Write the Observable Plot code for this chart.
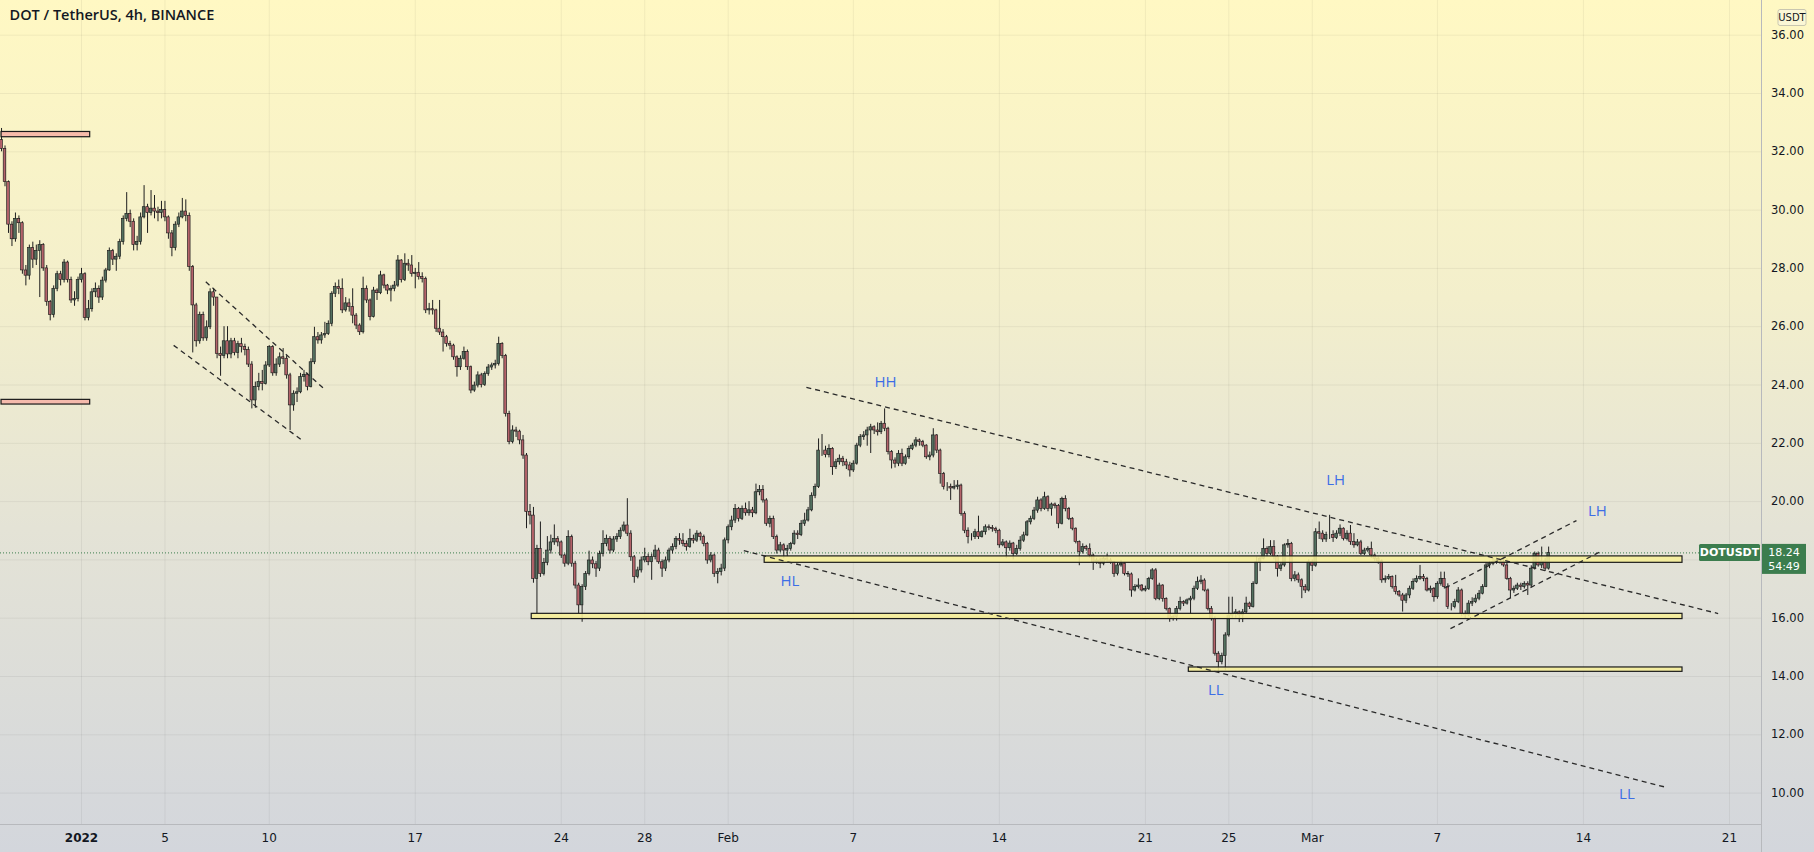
<!DOCTYPE html>
<html>
<head>
<meta charset="utf-8">
<script src="https://cdn.jsdelivr.net/npm/d3@7"></script>
<script src="https://cdn.jsdelivr.net/npm/@observablehq/plot@0.6"></script>
<style>
  html, body { margin: 0; padding: 0; background: #e8e6d4; }
  #chart { width: 1814px; height: 852px; }
</style>
</head>
<body>
<div id="chart"></div>
<script>
// ---------------- DATA ----------------
const chartTitle = "DOT / TetherUS, 4h, BINANCE";
const symbolName = "DOTUSDT";
const quoteCurrency = "USDT";
const lastPrice = 18.24;
const countdown = "54:49";
const firstCandleTime = "2021-12-28T04:00:00Z"; // 4h candles follow
const firstOpen = 32.40;

const closes = [
  32.10, 30.96, 29.50, 29.00, 29.70,
  29.55, 27.93, 27.75, 28.70, 28.30, 28.60,
  28.80, 28.00, 26.85, 26.40, 27.30, 27.80,
  27.60, 28.20, 27.60, 26.90, 26.95, 27.60,
  27.80, 26.30, 26.60, 27.18, 27.30, 27.00,
  27.58, 27.93, 28.60, 28.30, 28.40, 28.90,
  29.70, 29.87, 29.60, 28.80, 28.90, 29.75,
  30.10, 29.90, 30.05, 29.95, 29.90, 30.00,
  29.75, 29.20, 28.70, 29.50, 29.75, 29.95,
  29.80, 28.05, 26.73, 25.50, 26.40, 25.60,
  25.98, 27.18, 27.00, 25.07, 25.00, 25.50,
  25.05, 25.50, 25.10, 25.40, 25.30, 25.20,
  24.70, 23.47, 23.93, 24.10, 24.03, 24.67,
  25.30, 24.40, 24.70, 24.95, 24.90, 24.33,
  23.30, 23.70, 23.75, 24.27, 24.35, 23.93,
  24.78, 25.64, 25.53, 25.70, 25.75, 26.10,
  27.13, 27.36, 27.30, 26.56, 26.80, 26.67,
  26.38, 26.04, 25.81, 27.30, 26.90, 26.33,
  27.24, 27.15, 27.76, 27.41, 27.24, 27.30,
  27.41, 28.27, 27.60, 28.16, 28.10, 27.81,
  27.85, 27.70, 27.64, 26.56, 26.60, 26.56,
  25.93, 25.80, 25.64, 25.41, 25.35, 24.95,
  24.61, 24.90, 25.13, 24.61, 23.81, 23.98,
  24.33, 24.00, 24.38, 24.60, 24.67, 24.72,
  25.41, 25.00, 23.01, 22.04, 22.44, 22.40,
  22.10, 21.58, 19.64, 19.52, 17.35, 18.38,
  17.52, 17.90, 18.32, 18.60, 18.72, 18.60,
  18.15, 17.87, 18.78, 17.87, 17.12, 16.44,
  17.07, 17.52, 17.98, 17.85, 17.70, 18.20,
  18.55, 18.72, 18.32, 18.70, 18.78, 19.00,
  19.18, 18.90, 18.09, 17.41, 17.64, 17.98,
  18.10, 17.92, 18.10, 18.32, 17.92, 17.70,
  17.98, 18.32, 18.44, 18.72, 18.66, 18.55,
  18.44, 18.72, 18.66, 18.90, 18.78, 18.55,
  17.98, 18.15, 17.52, 17.58, 17.70, 18.67,
  19.12, 19.35, 19.75, 19.41, 19.75, 19.60,
  19.70, 19.60, 20.32, 20.40, 20.04, 19.24,
  19.40, 18.78, 18.32, 18.50, 18.32, 18.38,
  18.55, 18.90, 18.85, 19.24, 19.35, 19.70,
  20.20, 20.50, 21.75, 21.75, 21.60, 21.81,
  21.18, 21.35, 21.47, 21.35, 21.24, 21.07,
  21.30, 21.92, 22.21, 22.27, 22.44, 22.55,
  22.44, 22.38, 22.67, 22.50, 21.70, 21.41,
  21.30, 21.64, 21.30, 21.52, 21.81, 21.92,
  22.10, 22.04, 21.92, 21.52, 21.58, 22.27,
  21.75, 20.95, 20.50, 20.50, 20.45, 20.50,
  20.55, 19.58, 19.00, 18.78, 18.78, 18.95,
  18.78, 18.95, 19.12, 19.10, 19.06, 19.00,
  18.50, 18.60, 18.40, 18.56, 18.20, 18.38,
  18.66, 18.84, 19.29, 19.41, 19.69, 20.04,
  19.75, 20.15, 19.75, 19.90, 19.85, 19.24,
  20.09, 19.75, 19.41, 19.07, 18.61, 18.27,
  18.44, 18.38, 18.15, 17.92, 17.98, 17.87,
  18.04, 17.98, 17.92, 17.52, 17.81, 17.87,
  17.52, 17.50, 16.95, 17.07, 17.12, 16.95,
  17.00, 17.35, 17.64, 16.66, 17.12, 16.66,
  16.32, 15.98, 16.04, 16.32, 16.55, 16.50,
  16.61, 16.67, 17.01, 17.24, 17.29, 16.95,
  16.32, 15.98, 14.78, 14.49, 14.70, 15.41,
  16.09, 16.15, 16.20, 16.10, 16.20, 16.50,
  16.38, 17.18, 17.92, 18.04, 18.38, 18.21,
  18.44, 18.10, 17.69, 17.81, 18.50, 18.55,
  17.35, 17.47, 17.30, 17.07, 16.95, 17.92,
  17.80, 18.95, 18.90, 18.70, 18.85, 18.85,
  18.75, 18.90, 19.07, 18.72, 18.90, 18.61,
  18.50, 18.60, 18.21, 18.32, 18.38, 18.15,
  18.04, 17.95, 17.30, 17.35, 17.41, 17.07,
  16.90, 16.78, 16.60, 16.78, 17.01, 17.24,
  17.35, 17.41, 17.35, 16.95, 17.01, 16.72,
  17.18, 17.35, 17.07, 16.38, 16.38, 16.55,
  16.95, 16.15, 16.10, 16.50, 16.55, 16.67,
  16.84, 17.07, 17.81, 17.87, 17.92, 17.98,
  17.92, 17.81, 17.35, 16.95, 17.01, 17.12,
  17.07, 17.18, 17.12, 17.70, 18.21, 17.81,
  17.95, 17.70, 18.24
];

const highs = [
  32.80, 32.20, 31.00, 29.60, 29.90,
  29.80, 29.60, 28.10, 28.80, 28.90, 28.80,
  28.95, 28.85, 28.10, 26.90, 27.40, 27.90,
  27.90, 28.30, 28.25, 27.70, 27.20, 27.70,
  28.00, 27.85, 26.90, 27.30, 27.50, 27.40,
  27.70, 28.00, 28.70, 28.65, 28.50, 29.00,
  29.80, 30.60, 30.00, 29.70, 29.10, 29.90,
  30.84, 30.20, 30.67, 30.50, 30.10, 30.30,
  30.30, 29.80, 29.30, 29.60, 29.90, 30.40,
  30.35, 29.90, 28.10, 26.80, 26.50, 26.50,
  26.20, 27.30, 27.30, 27.00, 25.30, 26.00,
  26.00, 25.60, 25.60, 25.50, 25.60, 25.40,
  25.30, 24.80, 24.10, 24.40, 24.50, 24.80,
  25.35, 25.35, 24.90, 25.10, 25.25, 25.00,
  24.40, 23.80, 23.90, 24.40, 24.50, 24.40,
  24.90, 25.98, 25.80, 25.80, 26.15, 26.20,
  27.20, 27.50, 27.60, 27.64, 27.00, 26.95,
  27.30, 26.45, 26.10, 27.70, 27.40, 26.95,
  27.35, 27.30, 27.90, 27.80, 27.45, 27.40,
  27.55, 28.44, 28.30, 28.50, 28.30, 28.44,
  28.00, 28.20, 27.85, 27.70, 26.80, 26.90,
  26.60, 26.90, 25.90, 25.70, 25.50, 25.40,
  25.00, 25.00, 25.30, 25.20, 24.65, 24.10,
  24.45, 24.40, 24.45, 24.70, 24.75, 24.85,
  25.64, 25.45, 25.05, 23.10, 22.60, 22.55,
  22.45, 22.27, 21.65, 19.90, 19.80, 18.50,
  19.30, 18.05, 18.80, 18.85, 19.20, 18.80,
  18.65, 18.20, 19.00, 18.85, 17.95, 17.20,
  17.15, 17.60, 18.30, 18.10, 17.95, 18.30,
  19.00, 18.85, 18.80, 18.80, 18.90, 19.10,
  19.30, 20.10, 19.00, 18.15, 17.75, 18.10,
  18.40, 18.20, 18.20, 18.50, 18.40, 18.00,
  18.10, 18.40, 18.55, 18.80, 18.90, 18.90,
  18.65, 19.05, 18.85, 19.00, 18.95, 18.85,
  18.60, 18.25, 18.20, 17.70, 17.85, 18.75,
  19.20, 19.50, 19.90, 19.80, 19.85, 19.95,
  20.00, 19.80, 20.60, 20.55, 20.55, 20.10,
  19.50, 19.50, 18.85, 18.60, 18.55, 18.50,
  18.60, 19.00, 19.00, 19.35, 19.60, 19.80,
  20.30, 20.60, 22.15, 22.30, 21.90, 21.95,
  21.85, 21.45, 21.60, 21.55, 21.45, 21.35,
  21.40, 22.00, 22.30, 22.40, 22.55, 22.65,
  22.60, 22.70, 22.75, 23.18, 22.55, 21.75,
  21.50, 21.75, 21.80, 21.60, 21.90, 22.00,
  22.20, 22.15, 22.10, 21.95, 21.70, 22.50,
  22.30, 21.80, 21.00, 20.65, 20.60, 20.72,
  20.72, 20.60, 19.65, 19.10, 18.90, 19.05,
  19.50, 19.00, 19.20, 19.20, 19.18, 19.12,
  19.05, 18.70, 18.65, 18.65, 18.60, 18.50,
  18.80, 18.95, 19.35, 19.50, 19.80, 20.15,
  20.10, 20.32, 20.20, 19.95, 19.95, 19.90,
  20.15, 20.20, 19.80, 19.45, 19.10, 18.65,
  18.55, 18.50, 18.55, 18.20, 18.05, 18.05,
  18.10, 18.20, 18.05, 17.95, 17.90, 17.98,
  17.90, 17.60, 17.55, 17.15, 17.35, 17.15,
  17.10, 17.40, 17.70, 17.70, 17.20, 17.15,
  16.70, 16.35, 16.10, 16.40, 16.72, 16.60,
  16.66, 16.75, 17.10, 17.41, 17.46, 17.35,
  17.00, 16.40, 16.05, 14.85, 14.80, 15.50,
  16.72, 16.72, 16.30, 16.25, 16.30, 16.72,
  16.55, 17.25, 18.10, 18.10, 18.72, 18.45,
  18.66, 18.66, 18.15, 17.90, 18.55, 18.70,
  18.60, 17.60, 17.55, 17.35, 17.15, 18.00,
  18.00, 19.07, 19.30, 19.00, 18.95, 19.53,
  19.00, 19.00, 19.20, 19.10, 19.00, 19.18,
  18.90, 18.70, 18.67, 18.40, 18.45, 18.61,
  18.20, 18.10, 18.00, 17.45, 17.50, 17.45,
  17.47, 16.95, 16.85, 16.85, 17.10, 17.35,
  17.45, 17.81, 17.50, 17.40, 17.10, 17.05,
  17.25, 17.58, 17.58, 17.18, 16.50, 16.65,
  17.05, 17.00, 16.25, 16.60, 16.70, 16.80,
  16.95, 17.15, 17.90, 17.95, 18.05, 18.10,
  18.05, 18.10, 18.04, 17.40, 17.10, 17.20,
  17.20, 17.25, 17.25, 17.80, 18.27, 18.27,
  18.44, 18.05, 18.44
];

const lows = [
  32.00, 30.80, 29.20, 28.75, 28.90,
  29.20, 27.80, 27.40, 27.60, 28.00, 28.10,
  27.00, 27.90, 26.70, 26.20, 26.30, 27.20,
  27.40, 27.50, 27.50, 26.80, 26.70, 26.85,
  27.50, 26.20, 26.20, 26.50, 27.00, 26.80,
  26.90, 27.50, 27.90, 28.10, 27.90, 28.30,
  28.80, 29.60, 29.40, 28.60, 28.60, 28.80,
  29.70, 29.20, 29.80, 29.70, 29.60, 29.70,
  29.60, 29.00, 28.40, 28.60, 29.40, 29.70,
  29.60, 27.90, 25.10, 25.30, 25.40, 25.50,
  25.50, 25.90, 26.70, 24.90, 24.30, 24.90,
  24.90, 24.90, 25.00, 24.90, 25.10, 25.00,
  24.60, 23.18, 23.20, 23.80, 23.80, 24.00,
  24.60, 24.30, 24.30, 24.60, 24.70, 24.20,
  22.44, 23.10, 23.40, 23.70, 24.10, 23.80,
  23.90, 24.70, 25.40, 25.40, 25.60, 25.70,
  26.00, 27.00, 27.10, 26.45, 26.50, 26.50,
  26.10, 25.90, 25.70, 25.75, 26.80, 26.20,
  26.30, 26.90, 27.10, 27.30, 27.10, 26.85,
  27.20, 27.35, 27.50, 27.55, 27.90, 27.70,
  27.30, 27.60, 27.50, 26.45, 26.40, 26.40,
  25.80, 25.70, 25.13, 25.30, 25.20, 24.85,
  24.27, 24.50, 24.85, 24.50, 23.70, 23.75,
  23.90, 23.90, 23.95, 24.30, 24.50, 24.55,
  24.65, 24.90, 22.90, 21.95, 21.98, 22.20,
  21.95, 21.45, 19.07, 19.20, 17.20, 16.15,
  17.40, 17.45, 17.80, 18.20, 18.50, 18.45,
  18.05, 17.75, 17.80, 17.75, 17.00, 16.15,
  15.86, 16.95, 17.45, 17.70, 17.40, 17.60,
  18.10, 18.45, 18.20, 18.25, 18.60, 18.70,
  18.95, 18.80, 17.95, 17.20, 17.35, 17.55,
  17.90, 17.80, 17.30, 18.00, 17.85, 17.40,
  17.60, 17.90, 18.20, 18.35, 18.50, 18.45,
  18.30, 18.40, 18.55, 18.60, 18.65, 18.45,
  17.85, 17.90, 17.40, 17.18, 17.45, 17.60,
  18.55, 19.00, 19.25, 19.30, 19.35, 19.50,
  19.50, 19.45, 19.55, 20.20, 19.95, 19.15,
  19.10, 18.70, 18.20, 18.25, 18.04, 18.10,
  18.30, 18.50, 18.70, 18.80, 19.15, 19.30,
  19.65, 20.10, 20.45, 21.55, 21.50, 21.50,
  20.90, 21.10, 21.25, 21.20, 21.10, 20.84,
  21.00, 21.25, 21.85, 22.10, 21.90, 21.65,
  22.30, 22.25, 22.30, 22.40, 21.60, 21.12,
  21.15, 21.20, 21.20, 21.25, 21.45, 21.75,
  21.85, 21.90, 21.85, 21.45, 21.40, 21.50,
  21.65, 20.60, 20.40, 20.35, 20.04, 20.40,
  20.40, 19.50, 18.90, 18.55, 18.65, 18.70,
  18.70, 18.75, 18.85, 19.00, 18.95, 18.90,
  18.40, 18.45, 18.04, 18.30, 18.00, 18.15,
  18.30, 18.60, 18.80, 19.20, 19.35, 19.60,
  19.65, 19.70, 19.65, 19.50, 19.75, 19.07,
  19.20, 19.65, 19.35, 19.00, 18.55, 17.80,
  18.20, 18.30, 18.05, 17.64, 17.85, 17.70,
  17.80, 17.90, 17.85, 17.40, 17.45, 17.75,
  17.45, 17.40, 16.72, 16.90, 17.00, 16.90,
  16.90, 16.95, 17.30, 16.60, 16.60, 16.55,
  16.25, 15.86, 15.90, 15.90, 16.25, 16.40,
  16.45, 16.15, 16.60, 16.95, 17.15, 16.90,
  16.25, 15.90, 14.70, 14.15, 14.40, 14.20,
  15.35, 16.00, 16.00, 15.85, 15.85, 16.15,
  16.30, 16.35, 17.15, 17.60, 18.00, 18.10,
  18.15, 18.00, 17.41, 17.60, 17.75, 18.40,
  17.25, 17.25, 17.20, 16.67, 16.85, 16.90,
  17.60, 17.75, 18.70, 18.60, 18.60, 18.70,
  18.60, 18.70, 18.80, 18.65, 18.65, 18.50,
  18.40, 18.45, 18.15, 18.15, 18.25, 18.05,
  17.95, 17.85, 17.20, 17.20, 17.30, 17.00,
  16.80, 16.72, 16.21, 16.50, 16.67, 16.95,
  17.20, 17.30, 17.25, 16.90, 16.85, 16.55,
  16.65, 17.10, 17.00, 16.30, 16.25, 16.32,
  16.50, 16.05, 15.98, 16.05, 16.40, 16.50,
  16.60, 16.80, 17.05, 17.70, 17.80, 17.85,
  17.85, 17.75, 17.30, 16.67, 16.85, 16.95,
  16.95, 17.00, 16.78, 17.05, 17.65, 17.75,
  17.70, 17.60, 17.65
];

// Price axis: grid lines at every 2.00; the 18.00 label is hidden under the last-price tag
const gridPrices  = [10, 12, 14, 16, 18, 20, 22, 24, 26, 28, 30, 32, 34, 36];
const labelPrices = [10, 12, 14, 16, 20, 22, 24, 26, 28, 30, 32, 34, 36];
const timeTickDates = ["2022-01-01", "2022-01-05", "2022-01-10", "2022-01-17", "2022-01-24", "2022-01-28",
  "2022-02-01", "2022-02-07", "2022-02-14", "2022-02-21", "2022-02-25", "2022-03-01",
  "2022-03-07", "2022-03-14", "2022-03-21"];
const timeTickLabels = ["2022", "5", "10", "17", "24", "28", "Feb", "7", "14", "21", "25", "Mar", "7", "14", "21"];

// Zones (price boxes)
const zoneStart = ["2021-12-28T04:00Z", "2021-12-28T04:00Z", "2022-02-02T18:00Z", "2022-01-22T14:00Z", "2022-02-23T02:00Z"];
const zoneEnd   = ["2022-01-01T10:00Z", "2022-01-01T10:00Z", "2022-03-18T18:00Z", "2022-03-18T18:00Z", "2022-03-18T18:00Z"];
const zoneLow   = [32.50, 23.33, 17.90, 15.97, 14.16];
const zoneHigh  = [32.68, 23.49, 18.12, 16.15, 14.31];
const zoneKind  = ["supply", "supply", "level", "level", "level"];

// Trend lines (dashed)
const lineStartTime  = ["2022-01-06T23:00Z", "2022-01-05T10:00Z", "2022-02-04T18:00Z", "2022-02-01T18:00Z", "2022-03-07T09:00Z", "2022-03-07T15:00Z"];
const lineStartPrice = [27.54, 25.36, 23.92, 18.32, 17.04, 15.64];
const lineEndTime    = ["2022-01-12T15:00Z", "2022-01-11T14:00Z", "2022-03-20T11:00Z", "2022-03-17T23:00Z", "2022-03-13T16:00Z", "2022-03-14T22:00Z"];
const lineEndPrice   = [23.87, 22.10, 16.16, 10.20, 19.35, 18.32];

// Swing labels
const swingText  = ["HH", "HL", "LH", "LH", "LL", "LL"];
const swingTime  = ["2022-02-08T13:00Z", "2022-02-03T23:00Z", "2022-03-02T03:00Z", "2022-03-14T16:00Z", "2022-02-24T09:00Z", "2022-03-16T02:00Z"];
const swingPrice = [24.09, 17.26, 20.72, 19.66, 13.52, 9.95];

// ---------------- BUILD ----------------
const H4 = 4 * 3600 * 1000;
const t0 = Date.parse(firstCandleTime);
const candles = closes.map((c, i) => {
  const o = i === 0 ? firstOpen : closes[i - 1];
  return {
    t: new Date(t0 + i * H4),
    o, c,
    h: Math.max(highs[i], o, c),
    l: Math.min(lows[i], o, c),
    up: c >= o
  };
});
const zones = zoneLow.map((v, i) => ({x1: new Date(zoneStart[i]), x2: new Date(zoneEnd[i]), y1: v, y2: zoneHigh[i], kind: zoneKind[i]}));
const lines = lineStartPrice.map((v, i) => ({x1: new Date(lineStartTime[i]), y1: v, x2: new Date(lineEndTime[i]), y2: lineEndPrice[i]}));
const swings = swingText.map((s, i) => ({text: s, x: new Date(swingTime[i]), y: swingPrice[i]}));
const tickDates = timeTickDates.map(d => new Date(d + "T00:00:00Z"));
const tickLabelMap = new Map(tickDates.map((d, i) => [+d, timeTickLabels[i]]));

const W = 1814, Hh = 852, MR = 53, MB = 28;
const pxPerDay = 20.86;
const jan1 = Date.UTC(2022, 0, 1);
const xDomain = [new Date(jan1 - 81 / pxPerDay * 864e5), new Date(jan1 + (W - MR - 81) / pxPerDay * 864e5)];
const yDomain = [36 - (Hh - MB - 34.7) / 29.15, 36 + 34.7 / 29.15];

const green = "#53705f", red = "#b4636a";
const halfBody = 1.5 * 3600 * 1000;

const plot = Plot.plot({
  width: W, height: Hh,
  marginLeft: 0, marginRight: MR, marginTop: 0, marginBottom: MB,
  style: {background: "linear-gradient(180deg, #fff8c3 0%, #f3efcc 35%, #e4e3d6 62%, #d3d6dc 100%)", color: "#131722", fontFamily: "'DejaVu Sans', sans-serif", overflow: "hidden"},
  x: {type: "utc", domain: xDomain},
  y: {domain: yDomain},
  marks: [
    Plot.gridX(tickDates, {stroke: "#000", strokeOpacity: 0.055}),
    Plot.gridY(gridPrices, {stroke: "#000", strokeOpacity: 0.055}),
    Plot.ruleY([lastPrice], {stroke: "#3c7d4e", strokeDasharray: "1,2", strokeWidth: 1}),
    Plot.ruleX(candles, {x: "t", y1: "l", y2: "h", stroke: "#1e1e1e", strokeWidth: 1}),
    Plot.rect(candles, {
      x1: d => new Date(+d.t - halfBody), x2: d => new Date(+d.t + halfBody),
      y1: "o", y2: "c", fill: d => d.up ? green : red,
      stroke: "#1a1a1a", strokeWidth: 0.65
    }),
    Plot.rect(zones, {x1: "x1", x2: "x2", y1: "y1", y2: "y2",
      fill: d => d.kind === "supply" ? "#f6b3a6" : "#f7ef97", fillOpacity: 0.88,
      stroke: "#1a1a1a", strokeWidth: 1.2}),
    Plot.link(lines, {x1: "x1", y1: "y1", x2: "x2", y2: "y2", stroke: "#2a2a2a", strokeWidth: 1.3, strokeDasharray: "5,4"}),
    Plot.text(swings, {x: "x", y: "y", text: "text", fill: "#3d6ee6", fontSize: 15, fontFamily: "'Open Sans', sans-serif"}),
    Plot.axisY({anchor: "right", ticks: labelPrices, tickSize: 0, tickPadding: 26, textAnchor: "middle",
      tickFormat: d => d.toFixed(2), fontSize: 11.5}),
    Plot.axisX({anchor: "bottom", ticks: tickDates, tickSize: 0, tickPadding: 9,
      tickFormat: d => tickLabelMap.get(+d), fontSize: 12}),
    Plot.text([chartTitle], {frameAnchor: "top-left", dx: 9, dy: 9, fontSize: 14.5, fontWeight: 600,
      fontFamily: "'Open Sans', sans-serif", fill: "#131722", textAnchor: "start", lineAnchor: "top"})
  ]
});

document.getElementById("chart").appendChild(plot);

// ---------------- CHROME (price labels, separators) ----------------
const svg = d3.select(plot.tagName === "svg" ? plot : plot.querySelector("svg"));
svg.selectAll("text").filter(function() { return this.textContent === "2022"; }).attr("font-weight", "bold");
const yScale = plot.scale("y");
const plotRight = W - MR;
const g = svg.append("g");
g.append("line").attr("x1", plotRight + 0.5).attr("x2", plotRight + 0.5).attr("y1", 0).attr("y2", Hh).attr("stroke", "#b7b9bd");
g.append("line").attr("x1", 0).attr("x2", plotRight).attr("y1", Hh - MB + 0.5).attr("y2", Hh - MB + 0.5).attr("stroke", "#b7b9bd");

const py = yScale.apply(lastPrice);
const labelGreen = "#3c7d4e";
g.append("rect").attr("x", plotRight - 62).attr("y", py - 8.5).attr("width", 61).attr("height", 17).attr("fill", labelGreen).attr("rx", 1.5);
g.append("text").attr("x", plotRight - 31.5).attr("y", py).attr("dy", "0.35em").attr("text-anchor", "middle")
  .attr("fill", "#fff").attr("font-size", 11).attr("font-weight", "bold").attr("font-family", "'DejaVu Sans', sans-serif").text(symbolName);
g.append("rect").attr("x", plotRight + 1).attr("y", py - 8.5).attr("width", 44).attr("height", 30).attr("fill", labelGreen);
g.append("text").attr("x", plotRight + 23).attr("y", py).attr("dy", "0.35em").attr("text-anchor", "middle")
  .attr("fill", "#fff").attr("font-size", 11).attr("font-family", "'DejaVu Sans', sans-serif").text(lastPrice.toFixed(2));
g.append("text").attr("x", plotRight + 23).attr("y", py + 14).attr("dy", "0.35em").attr("text-anchor", "middle")
  .attr("fill", "#fff").attr("font-size", 11).attr("font-family", "'DejaVu Sans', sans-serif").text(countdown);

g.append("rect").attr("x", plotRight + 17).attr("y", 9.5).attr("width", 28).attr("height", 16).attr("rx", 2)
  .attr("fill", "#fbf7d6").attr("stroke", "#c9c6b0");
g.append("text").attr("x", plotRight + 31).attr("y", 17.5).attr("dy", "0.35em").attr("text-anchor", "middle")
  .attr("fill", "#131722").attr("font-size", 10).attr("font-family", "'DejaVu Sans', sans-serif").text(quoteCurrency);
</script>
</body>
</html>
